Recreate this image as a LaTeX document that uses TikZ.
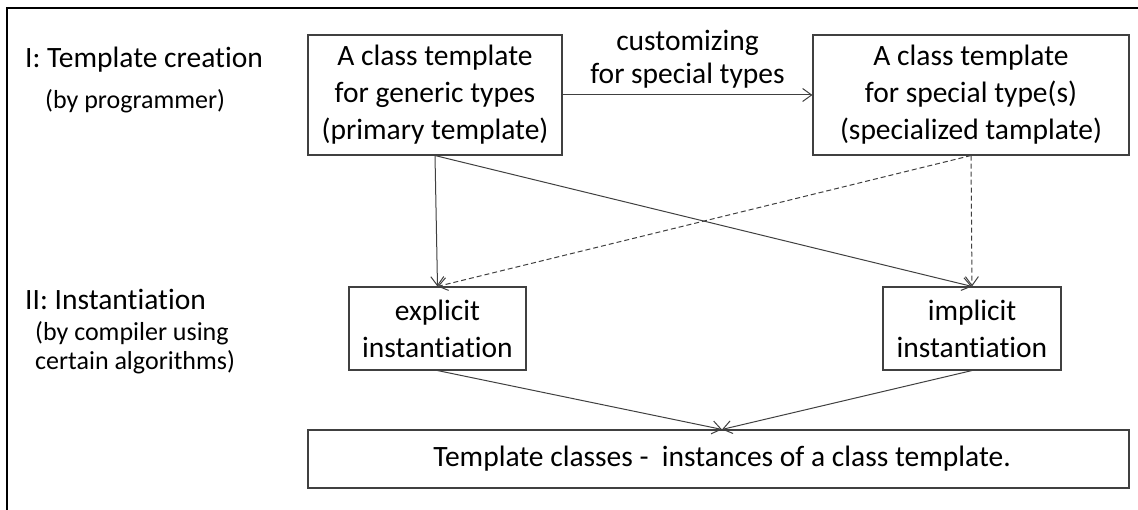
\documentclass[tikz,border=0pt]{standalone}
\usepackage{fontspec}
\setmainfont{Carlito}[Ligatures=NoCommon]
\usetikzlibrary{arrows.meta}
\definecolor{edge}{HTML}{404040}
\begin{document}
\begin{tikzpicture}[x=1pt,y=-1pt,
  box/.style={draw=edge,line width=1.1pt,inner sep=0pt,align=center,
    font=\fontsize{29.5}{37}\selectfont},
  heading/.style={anchor=west,inner sep=0pt,font=\fontsize{29.5}{37}\selectfont},
  sublabel/.style={anchor=west,inner sep=0pt,align=left,font=\fontsize{26}{29}\selectfont},
  link/.style={draw=edge,line width=1pt,-{Straight Barb[length=9pt,width=13pt,line width=1pt]}},
  weaklink/.style={link,dash pattern=on 5pt off 3pt}]
  % canvas and the two frame rules
  \useasboundingbox (0,0) rectangle (1138,510);
  \draw[line width=2.5pt] (7,510) -- (7,8) -- (1138,8);

  % row labels
  \node[heading] (lab1) at (25,60) {I: Template creation};
  \node[sublabel] (lab1s) at (45,101) {(by programmer)};
  \node[heading] (lab2) at (25,299) {II: Instantiation};
  \node[sublabel] (lab2s) at (35,348) {(by compiler using\\certain algorithms)};

  % templates
  \node[box,minimum width=254pt,minimum height=120pt] (prim) at (435,95)
    {A class template\\for generic types\\(primary template)};
  \node[box,minimum width=316pt,minimum height=120pt] (spec) at (971,95)
    {A class template\\for special type(s)\\(specialized tamplate)};

  % instantiations
  \node[box,minimum width=177pt,minimum height=83pt] (expl) at (437.5,328.5)
    {explicit\\instantiation};
  \node[box,minimum width=178pt,minimum height=83pt] (impl) at (972,328.5)
    {implicit\\instantiation};

  % result
  \node[box,minimum width=821pt,minimum height=58pt] (inst) at (718.5,459)
    {\hspace{7pt}Template classes -~~instances of a class template.};

  % connectors
  \draw[link] (prim.east) -- (spec.west)
    node[midway,above=6pt,inner sep=0pt,align=center,
      font=\fontsize{29.5}{33}\selectfont] (cust) {customizing\\for special types};
  \draw[link] (prim.south) -- (expl.north);
  \draw[link] (prim.south) -- (impl.north);
  \draw[weaklink] (spec.south) -- (expl.north);
  \draw[weaklink] (spec.south) -- (impl.north);
  \draw[link] (expl.south) -- ([xshift=3.5pt]inst.north);
  \draw[link] (impl.south) -- ([xshift=3.5pt]inst.north);
\end{tikzpicture}
\end{document}
